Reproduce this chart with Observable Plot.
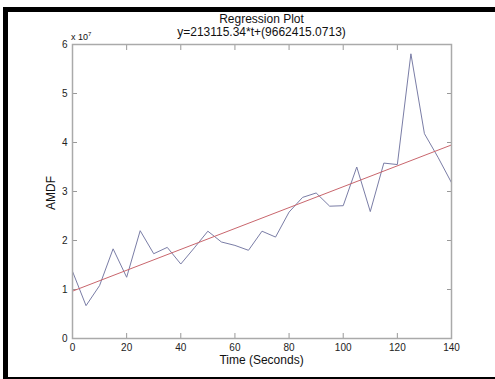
<!DOCTYPE html>
<html>
<head>
<meta charset="utf-8">
<script src="https://cdn.jsdelivr.net/npm/d3@7"></script>
<script src="https://cdn.jsdelivr.net/npm/@observablehq/plot@0.6"></script>
<style>
  html, body { margin: 0; padding: 0; background: #fff; }
  #wrap { position: relative; width: 495px; height: 379px; overflow: hidden; font-family: "Liberation Sans", Arial, sans-serif; color: #111; }
  #wrap svg { position: absolute; left: 0; top: 0; }
  .bar { position: absolute; background: #000; }
  .txt { position: absolute; white-space: nowrap; }
</style>
</head>
<body>
<div id="wrap">
  <div class="bar" style="left:3px;top:7px;width:492px;height:5px;"></div>
  <div class="bar" style="left:3px;top:7px;width:5px;height:372px;"></div>
  <div class="bar" style="left:3px;top:377px;width:492px;height:2px;"></div>
  <div class="txt" id="title" style="left:0;width:523px;top:13px;text-align:center;font-size:12px;line-height:13px;">Regression Plot<br>y=213115.34*t+(9662415.0713)</div>
  <div class="txt" style="left:71px;top:31px;font-size:9px;">x 10<sup style="font-size:6px;">7</sup></div>
  <div class="txt" style="left:0;width:523px;top:353px;text-align:center;font-size:12px;">Time (Seconds)</div>
  <div class="txt" style="left:51px;top:193px;font-size:12px;transform:translate(-50%,-50%) rotate(-90deg);">AMDF</div>
</div>
<script>
// Observed AMDF values (units of 10^7) sampled every 5 seconds
const time = [0,5,10,15,20,25,30,35,40,45,50,55,60,65,70,75,80,85,90,95,100,105,110,115,120,125,130,135,140];
const amdf = [1.37,0.67,1.08,1.83,1.25,2.20,1.73,1.86,1.52,1.85,2.19,1.97,1.90,1.80,2.19,2.07,2.58,2.88,2.97,2.70,2.71,3.50,2.59,3.58,3.55,5.81,4.18,3.70,3.18];
// Regression line endpoints (units of 10^7)
const regTime = [0, 140];
const regAmdf = [0.966, 3.950];
const xTicks = [0,20,40,60,80,100,120,140];
const yTicks = [0,1,2,3,4,5,6];

const data = time.map((t, i) => ({t, v: amdf[i]}));
const reg = regTime.map((t, i) => ({t, v: regAmdf[i]}));

const chart = Plot.plot({
  width: 495,
  height: 379,
  marginLeft: 72,
  marginRight: 44,
  marginTop: 44,
  marginBottom: 41,
  style: {fontFamily: "'Liberation Sans', Arial, sans-serif", fontSize: "10px", background: "transparent", color: "#222"},
  x: {domain: [0, 140]},
  y: {domain: [0, 6]},
  marks: [
    Plot.axisX({ticks: xTicks, tickSize: -5, tickPadding: 10, tickFormat: d => String(d), label: null, stroke: "#999"}),
    Plot.axisX({anchor: "top", ticks: xTicks, tickSize: -5, tickFormat: () => "", label: null, stroke: "#999"}),
    Plot.axisY({ticks: yTicks, tickSize: -5, tickPadding: 10, tickFormat: d => String(d), label: null, stroke: "#999"}),
    Plot.axisY({anchor: "right", ticks: yTicks, tickSize: -5, tickFormat: () => "", label: null, stroke: "#999"}),
    Plot.line(data, {x: "t", y: "v", stroke: "#7a7da6", strokeWidth: 1}),
    Plot.line(reg, {x: "t", y: "v", stroke: "#c9666d", strokeWidth: 1}),
    Plot.frame({stroke: "#aaa", strokeWidth: 1.5})
  ]
});
document.getElementById("wrap").insertBefore(chart, document.getElementById("title"));
</script>
</body>
</html>
